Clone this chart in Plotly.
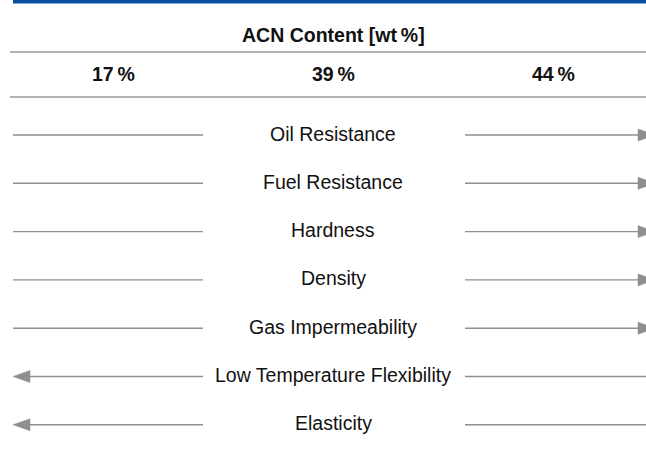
import plotly.graph_objects as go

# ---------------- data ----------------
header_title = "ACN Content [wt\u2009%]"
acn_levels = ["17\u2009%", "39\u2009%", "44\u2009%"]
properties = [
    "Oil Resistance",
    "Fuel Resistance",
    "Hardness",
    "Density",
    "Gas Impermeability",
    "Low Temperature Flexibility",
    "Elasticity",
]
# +1: property increases with ACN content, -1: property decreases
trend = [1, 1, 1, 1, 1, -1, -1]

# ---------------- layout / style constants ----------------
W, H = 646, 462
BLUE = "#0a52a3"
GREY = "#8f8f8f"
RULE = "#9a9a9a"
TEXT = "#111111"
FONT = "Liberation Sans, Arial, Helvetica, sans-serif"

col_centers = [113, 333, 553]
title_y = 35
level_y = 74
rule_ys = [52, 97]
row_y0, row_step = 135, 48.3
left_x0, left_x1 = 13, 203
right_x0, right_x1 = 465, 646
head_len, head_half = 17, 6

fig = go.Figure()

# header rules
for ry in rule_ys:
    fig.add_trace(go.Scatter(x=[10, W], y=[ry, ry], mode="lines",
                             line=dict(color=RULE, width=1.4),
                             hoverinfo="skip", showlegend=False))

annotations = [
    dict(x=333, y=title_y, text="<b>" + header_title + "</b>", showarrow=False,
         font=dict(family=FONT, size=19.5, color=TEXT), xanchor="center", yanchor="middle"),
]
for cx, lab in zip(col_centers, acn_levels):
    annotations.append(dict(x=cx, y=level_y, text="<b>" + lab + "</b>", showarrow=False,
                            font=dict(family=FONT, size=19.5, color=TEXT),
                            xanchor="center", yanchor="middle"))

for i, (prop, t) in enumerate(zip(properties, trend)):
    y = row_y0 + i * row_step
    if t > 0:
        lx = [left_x0, left_x1]
        rx = [right_x0, right_x1 - 8]
        tri_x = [right_x1 - 8, right_x1 - 8, right_x1 - 8 + head_len, right_x1 - 8]
        tri_y = [y - head_half, y + head_half, y, y - head_half]
    else:
        lx = [left_x0 + head_len, left_x1]
        rx = [right_x0, right_x1]
        tri_x = [left_x0 + head_len, left_x0 + head_len, left_x0, left_x0 + head_len]
        tri_y = [y - head_half, y + head_half, y, y - head_half]
    for xs in (lx, rx):
        fig.add_trace(go.Scatter(x=xs, y=[y, y], mode="lines",
                                 line=dict(color=GREY, width=1.4),
                                 hoverinfo="skip", showlegend=False))
    fig.add_trace(go.Scatter(x=tri_x, y=tri_y, mode="lines", fill="toself",
                             fillcolor=GREY, line=dict(color=GREY, width=0.5),
                             hoverinfo="skip", showlegend=False))
    annotations.append(dict(x=333, y=y - 1.5, text=prop, showarrow=False,
                            font=dict(family=FONT, size=19.5, color=TEXT),
                            xanchor="center", yanchor="middle"))

fig.update_layout(
    width=W, height=H,
    margin=dict(l=0, r=0, t=0, b=0),
    paper_bgcolor="white", plot_bgcolor="white",
    xaxis=dict(range=[0, W], visible=False, fixedrange=True),
    yaxis=dict(range=[H, 0], visible=False, fixedrange=True),
    annotations=annotations,
    shapes=[dict(type="rect", xref="x", yref="y", x0=13, x1=W, y0=0, y1=3.5,
                 fillcolor=BLUE, line=dict(width=0))],
)

fig.write_html("out.html",
               config={"displayModeBar": False, "staticPlot": True},
               post_script="document.body.style.margin='0';document.body.style.overflow='hidden';")
